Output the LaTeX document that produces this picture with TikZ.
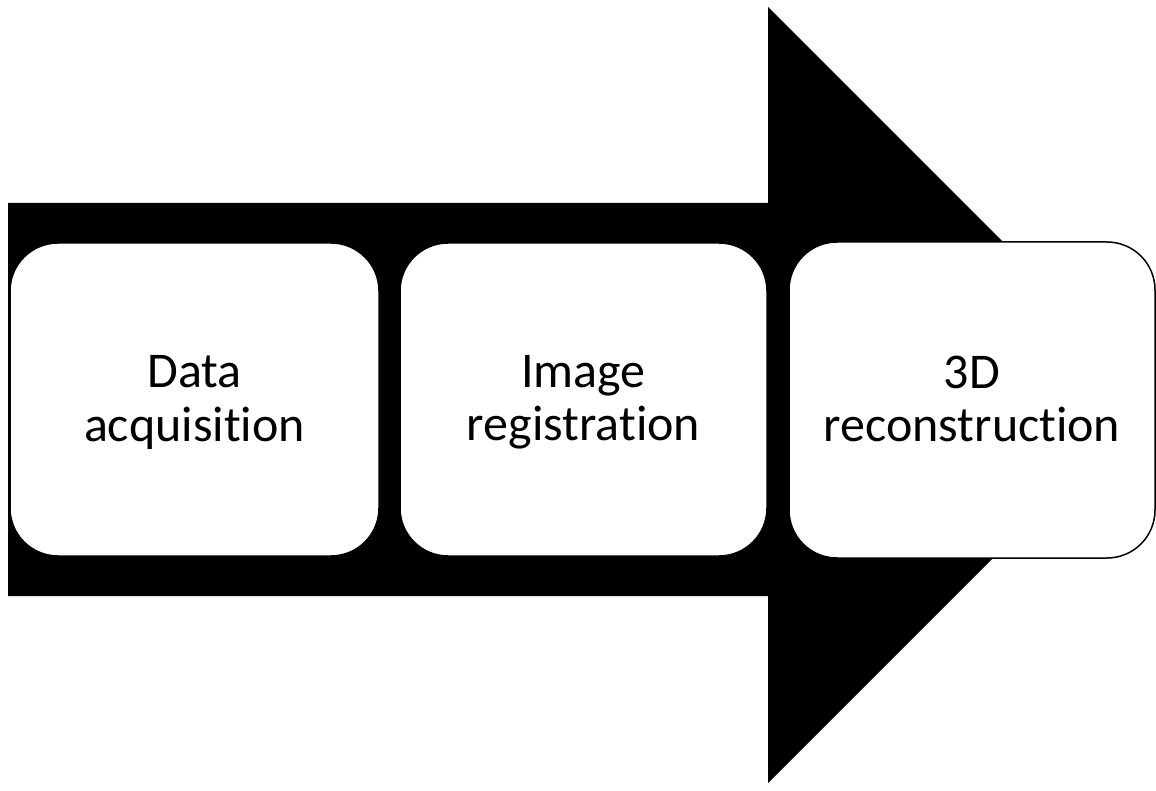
\documentclass[tikz,border=0pt]{standalone}
\usepackage{fontspec}
\setmainfont{Carlito}[Ligatures=NoCommon]
\newcommand{\topstrut}{\rule{0pt}{38pt}}
\newcommand{\botstrut}{\rule[-8pt]{0pt}{8pt}}
\begin{document}
\begin{tikzpicture}[x=1pt,y=-1pt,
  stagebox/.style={draw=black, fill=white, line width=1.5pt, rounded corners=48pt,
    align=center, inner sep=0pt, font=\fontsize{50}{53.3}\selectfont}]
\useasboundingbox (0,0) rectangle (1156,791);
\fill[white] (0,0) rectangle (1156,791);
\fill[black] (8,203) -- (768,203) -- (768,7) -- (1156,395) -- (768,783) -- (768,596) -- (8,596) -- cycle;
\node[stagebox, minimum width=369pt, minimum height=313pt] (acq) at (194.5,399.5) {\topstrut Data\\acquisition\botstrut};
\node[stagebox, minimum width=367pt, minimum height=313pt] (reg) at (583.5,399.5) {\topstrut Image\\registration\botstrut};
\node[stagebox, minimum width=366pt, minimum height=316pt] (rec) at (972,400) {\topstrut 3D\\reconstruction\botstrut};
\end{tikzpicture}
\end{document}
